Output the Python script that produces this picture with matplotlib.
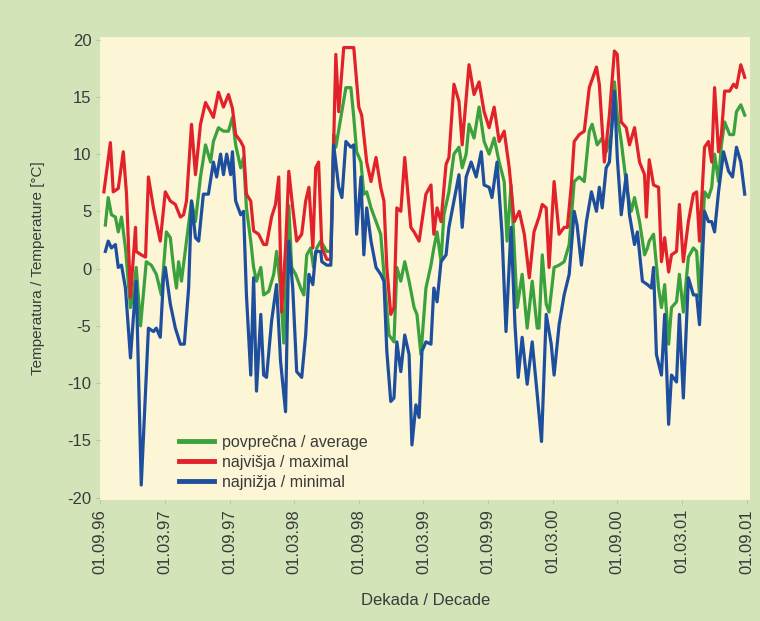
import matplotlib
matplotlib.use('Agg')
import matplotlib.pyplot as plt
import matplotlib.ticker as mticker

plt.rcParams['font.family'] = ['Liberation Sans Narrow', 'Liberation Sans', 'DejaVu Sans']
plt.rcParams['axes.unicode_minus'] = False

# dekad index (0 = 01.09.96, 18 dekads per half year) and temperature in degC
max_x = [1.0, 2.8, 3.6, 5.0, 6.4, 7.3, 8.4, 9.8, 10.0, 11.4, 12.6, 13.4, 14.8, 16.7, 18.1,
         19.5, 20.9, 22.3, 23.2, 24.0, 25.4, 26.5, 27.9, 29.3, 30.7, 31.5, 32.9, 34.3, 35.7,
         36.8, 37.7, 39.1, 39.9, 40.7, 41.9, 42.7, 44.1, 45.5, 46.3, 47.7, 48.8, 49.7, 50.5,
         51.6, 52.5, 53.6, 54.7, 56.1, 57.2, 58.1, 59.2, 60.0, 60.8, 61.7, 63.1, 64.2, 65.6,
         66.4, 67.8, 70.6, 72.0, 72.8, 74.2, 75.4, 76.8, 78.1, 79.0, 79.8, 80.9, 81.8, 82.6,
         83.7, 84.8, 86.5, 87.4, 88.8, 90.7, 92.1, 92.9, 93.8, 94.9, 96.3, 97.1, 98.5, 99.9,
         100.8, 102.7, 104.1, 105.5, 106.9, 108.3, 109.7, 111.1, 112.5, 113.9, 115.3, 116.7,
         118.1, 119.5, 120.8, 122.2, 123.1, 124.2, 125.0, 126.4, 127.8, 129.2, 130.1, 131.2,
         132.0, 133.4, 134.8, 136.2, 138.2, 139.0, 140.4, 141.8, 143.2, 144.0, 145.1, 146.5,
         147.4, 148.8, 150.2, 151.6, 152.1, 152.9, 154.1, 155.5, 156.3, 157.2, 158.3, 159.1,
         160.5, 161.3, 162.4, 163.8, 165.2, 166.1, 166.9, 168.3, 169.4, 170.3, 171.1, 172.2,
         173.0, 173.9, 175.3, 176.4, 177.2, 178.4, 179.5]
max_t = [6.7, 11.0, 6.7, 7.0, 10.2, 6.5, -2.5, 3.6, 1.5, 1.2, 1.0, 8.0, 5.3, 2.4, 6.7,
         5.9, 5.6, 4.5, 4.7, 5.9, 12.6, 8.2, 12.6, 14.5, 13.7, 13.2, 15.4, 14.1, 15.2,
         14.0, 11.7, 11.1, 10.6, 6.5, 5.9, 3.3, 3.0, 2.1, 2.1, 4.5, 5.6, 8.0, -3.8,
         1.8, 8.5, 5.3, 2.4, 3.0, 5.9, 7.1, 1.8, 8.8, 9.3, 1.8, 0.8, 0.8, 18.7,
         13.7, 19.3, 19.3, 14.1, 13.4, 9.3, 7.6, 9.7, 7.1, 5.9, 0.1, -4.0, -3.4, 5.3,
         5.0, 9.7, 3.6, 3.2, 2.4, 6.5, 7.3, 3.0, 5.3, 4.1, 9.1, 9.7, 16.1, 14.6,
         10.8, 17.8, 15.2, 16.3, 13.7, 12.3, 14.1, 11.1, 12.0, 8.8, 4.1, 5.0,
         3.0, -0.8, 3.2, 4.5, 5.6, 5.3, 0.1, 7.6, 3.0, 3.6, 3.6, 7.3,
         11.1, 11.7, 12.0, 15.8, 17.6, 16.1, 9.3, 13.4, 19.0, 18.7, 12.8, 12.3,
         10.8, 12.3, 9.3, 8.2, 4.5, 9.5, 7.3, 7.1, 0.6, 2.7, -0.3, 1.2,
         1.5, 5.6, 0.6, 4.1, 6.5, 6.7, 2.4, 10.6, 11.1, 9.3, 15.8, 10.2,
         11.7, 15.5, 15.5, 16.1, 15.8, 17.8, 16.7]

avg_x = [1.4, 2.2, 3.1, 4.2, 5.0, 5.9, 7.0, 8.4, 9.2, 10.0, 11.2, 12.8, 14.2, 15.6, 17.0,
         18.4, 19.5, 20.4, 21.2, 21.8, 22.6, 24.0, 25.4, 26.5, 27.9, 29.3, 30.7, 31.5, 32.9,
         34.3, 35.7, 36.8, 37.7, 39.1, 39.9, 40.7, 41.9, 42.7, 43.5, 44.7, 45.5, 46.9, 48.3,
         49.1, 50.2, 51.1, 52.5, 53.3, 54.4, 55.8, 56.7, 57.5, 58.6, 59.4, 60.3, 61.4, 63.1,
         64.2, 65.0, 65.6, 67.0, 68.4, 69.8, 70.6, 71.4, 72.6, 73.4, 74.2, 75.4, 76.8, 78.1,
         79.5, 80.4, 81.8, 82.6, 83.7, 84.8, 86.0, 87.4, 88.2, 89.3, 90.7, 92.1, 92.9, 93.8,
         94.9, 95.7, 97.1, 98.5, 99.9, 100.8, 101.9, 102.7, 104.1, 105.5, 106.9, 108.3, 109.7,
         111.1, 112.5, 113.3, 114.4, 115.3, 116.1, 117.5, 118.9, 120.3, 121.7, 122.2, 123.1,
         124.2, 125.0, 126.4, 127.8, 129.2, 130.6, 132.0, 133.4, 134.8, 136.2, 137.0, 138.4,
         139.8, 140.9, 142.3, 143.2, 144.0, 145.1, 146.0, 146.8, 147.9, 148.8, 150.2, 151.6,
         152.4, 152.9, 154.1, 155.5, 156.3, 157.2, 158.3, 159.1, 160.5, 161.3, 162.4, 163.8,
         165.2, 166.1, 166.9, 168.3, 169.4, 170.3, 171.1, 172.2, 173.0, 173.9, 175.3, 176.4,
         177.2, 178.4, 179.5]
avg_t = [3.8, 6.2, 4.7, 4.5, 3.2, 4.5, 1.8, -3.4, -2.3, 0.1, -5.0, 0.6, 0.3, -0.5, -2.3,
         3.2, 2.7, 0.1, -1.7, 0.6, -1.1, 2.4, 5.9, 4.1, 8.0, 10.8, 9.3, 11.1, 12.3,
         12.0, 12.0, 13.2, 10.8, 8.8, 9.7, 5.3, 2.4, 0.1, -1.1, 0.1, -2.3, -2.0, -0.5,
         1.5, -1.7, -6.5, 5.5, 0.1, -0.5, -1.7, -2.3, 1.2, 1.8, 0.1, 1.8, 2.4, 1.5,
         1.5, 11.7, 10.6, 13.2, 15.8, 15.8, 13.2, 10.2, 9.3, 6.5, 6.7, 5.3, 4.1, 3.0,
         -2.3, -5.8, -6.4, 0.1, -1.1, 0.6, -1.1, -3.4, -4.0, -7.5, -1.7, 0.3, 1.8, 3.2,
         0.6, 4.7, 6.7, 10.0, 10.6, 8.8, 10.0, 12.6, 11.4, 14.1, 11.1, 10.0, 11.4,
         9.3, 7.6, 2.4, 7.3, 1.8, -3.4, -0.5, -5.2, -1.1, -5.2, -5.2, 1.2,
         -3.1, -3.8, 0.1, 0.3, 0.6, 2.1, 7.6, 8.0, 7.6, 12.0, 12.6, 10.8,
         11.4, 10.2, 11.7, 16.3, 13.4, 11.1, 8.8, 6.7, 5.0, 6.2, 4.1, 1.2,
         1.8, 2.4, 3.0, -1.7, -3.4, -1.4, -6.6, -3.4, -2.9, -0.5, -3.8, 1.0,
         1.8, 1.5, -2.5, 6.7, 6.2, 7.1, 10.0, 7.6, 10.8, 12.8, 11.7, 11.7,
         13.7, 14.3, 13.4]

min_x = [1.4, 2.2, 3.1, 4.2, 5.0, 5.9, 7.0, 8.4, 9.2, 10.0, 11.4, 13.4, 14.8, 15.6, 16.7,
         17.6, 18.1, 19.5, 20.9, 22.3, 23.4, 24.6, 25.4, 26.5, 27.4, 28.7, 30.1, 31.5, 32.4,
         33.5, 34.3, 35.2, 36.3, 36.8, 37.7, 39.1, 39.9, 40.7, 41.9, 42.7, 43.5, 44.7, 45.5,
         46.3, 47.7, 49.1, 50.2, 51.6, 52.5, 53.6, 54.7, 56.1, 57.2, 58.1, 59.2, 60.0, 61.4,
         61.7, 63.1, 64.2, 65.0, 66.4, 67.3, 68.4, 69.8, 70.6, 71.4, 72.6, 73.4, 74.2, 75.4,
         76.8, 78.1, 79.0, 79.8, 80.9, 81.8, 82.6, 83.7, 84.8, 86.0, 86.8, 87.9, 88.8, 89.6,
         90.7, 92.1, 92.9, 93.8, 94.9, 96.3, 97.1, 98.5, 99.9, 100.8, 101.9, 103.3, 104.7,
         106.1, 106.9, 108.3, 109.1, 110.5, 111.9, 113.0, 114.4, 115.5, 116.4, 117.5, 118.9,
         120.3, 121.7, 122.9, 124.2, 125.6, 126.4, 127.8, 129.2, 130.6, 132.0, 132.8, 134.0,
         135.4, 136.8, 138.2, 139.0, 139.8, 140.9, 141.8, 143.2, 144.0, 145.1, 146.5, 147.4,
         148.8, 149.6, 151.0, 152.4, 153.5, 154.1, 154.9, 156.3, 157.2, 158.3, 159.1, 160.5,
         161.3, 162.4, 163.8, 165.2, 166.1, 166.9, 168.3, 169.4, 170.3, 171.1, 172.2, 173.6,
         175.0, 176.1, 177.2, 178.4, 179.5]
min_t = [1.5, 2.4, 1.8, 2.1, 0.1, 0.3, -1.7, -7.8, -4.3, -1.1, -18.9, -5.2, -5.5, -5.2, -6.0,
         -0.8, 0.1, -3.1, -5.2, -6.6, -6.6, -1.7, 5.9, 2.7, 2.4, 6.5, 6.5, 9.3, 8.0,
         10.0, 8.2, 10.0, 8.2, 10.2, 5.9, 4.7, 5.0, -2.3, -9.3, -0.8, -10.7, -4.0, -9.3,
         -9.5, -4.6, -1.4, -8.1, -12.5, 2.4, -1.7, -9.0, -9.5, -5.8, -0.5, -1.4, 1.5, 1.5,
         0.6, 0.3, 0.3, 10.8, 7.1, 6.2, 11.1, 10.6, 10.8, 3.0, 8.0, 1.2, 5.3, 2.4,
         0.1, -0.5, -1.1, -7.2, -11.6, -11.3, -6.4, -9.0, -5.8, -7.5, -15.4, -11.9, -13.0, -7.2,
         -6.4, -6.6, -1.7, -2.9, 0.6, 1.2, 3.6, 5.9, 8.2, 3.6, 8.0, 9.3, 8.0,
         10.2, 7.3, 7.1, 6.2, 9.3, 3.0, -5.5, 3.6, -4.9, -9.5, -6.0, -10.1,
         -6.4, -11.0, -15.1, -4.0, -6.6, -9.3, -4.9, -2.3, -0.5, 5.0, 3.8, 0.3,
         4.1, 6.7, 5.0, 7.1, 5.3, 8.8, 9.3, 15.5, 9.7, 4.7, 8.2, 4.7,
         2.1, 3.2, -1.1, -1.4, -1.7, 0.1, -7.5, -9.3, -4.0, -13.6, -9.3, -9.9,
         -4.0, -11.3, -0.8, -2.3, -2.3, -4.9, 5.0, 4.1, 4.1, 3.2, 6.7, 10.2,
         8.5, 8.0, 10.6, 9.3, 6.5]

tick_pos = [0, 18, 36, 54, 72, 90, 108, 126, 144, 162, 180]
tick_labels = ['01.09.96', '01.03.97', '01.09.97', '01.03.98', '01.09.98', '01.03.99',
               '01.09.99', '01.03.00', '01.09.00', '01.03.01', '01.09.01']

bgColor = '#d3e4b9'
plotColor = '#fcf5d6'
avgColor = '#3aa13c'
maxColor = '#e2222a'
minColor = '#1d4f9e'
textColor = '#3a3a3a'

fig = plt.figure(figsize=(7.6, 6.21), dpi=100, facecolor=bgColor)
ax = fig.add_axes([0.132, 0.195, 0.855, 0.745])
ax.set_facecolor(plotColor)

ax.plot(avg_x, avg_t, color=avgColor, lw=2.3, label='povprečna / average')
ax.plot(max_x, max_t, color=maxColor, lw=2.3, label='najvišja / maximal')
ax.plot(min_x, min_t, color=minColor, lw=2.3, label='najnižja / minimal')

ax.set_xlim(0, 181)
ax.set_ylim(-20.2, 20.2)
ax.set_xticks(tick_pos)
ax.set_xticklabels(tick_labels, rotation=90)
ax.yaxis.set_major_locator(mticker.MultipleLocator(5))

for s in ax.spines.values():
    s.set_visible(False)
ax.tick_params(axis='both', colors='#b9c9a4', labelcolor=textColor, labelsize=12, length=3)

ax.set_ylabel('Temperatura / Temperature [°C]', fontsize=11, color=textColor, labelpad=16)
ax.set_xlabel('Dekada / Decade', fontsize=12, color=textColor, labelpad=14)

leg = ax.legend(loc='lower left', bbox_to_anchor=(0.105, 0.0), frameon=False, fontsize=11.5,
                handlelength=2.2, handletextpad=0.5, labelspacing=0.3, borderaxespad=0.25,
                labelcolor=textColor)
for line in leg.get_lines():
    line.set_linewidth(3.5)

fig.savefig('out.png', dpi=100, facecolor=bgColor)
